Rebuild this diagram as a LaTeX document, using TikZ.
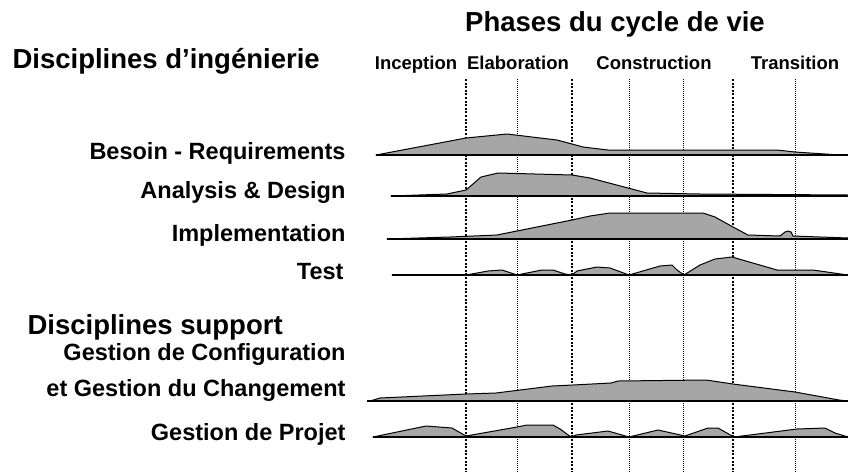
\documentclass[tikz,border=0pt]{standalone}
\usepackage{fontspec}
\setmainfont{Liberation Sans}
\begin{document}
\begin{tikzpicture}[x=1pt,y=-1pt,
    titre/.style={font=\bfseries\fontsize{27.5}{32}\selectfont, anchor=base},
    rubrique/.style={font=\bfseries\fontsize{27.5}{32}\selectfont, anchor=base west},
    phase/.style={font=\bfseries\fontsize{18.5}{22}\selectfont, anchor=base},
    discipline/.style={font=\bfseries\fontsize{23.5}{28}\selectfont, anchor=base east},
    courbe/.style={fill=gray!70, draw=black, line width=1pt, line join=round},
    socle/.style={line width=1.6pt},
    jalon/.style={dash pattern=on 2pt off 1.6pt, line width=2.4pt},
    iteration/.style={dash pattern=on 1pt off 1pt, line width=0.8pt}]
  \useasboundingbox (0,0) rectangle (848,472);

  % Titres
  \node[titre] (cycle) at (615,31) {Phases du cycle de vie};
  \node[rubrique] (inge) at (9,68) {Disciplines d’ingénierie};
  \node[rubrique] (support) at (24,334) {Disciplines support};

  % Phases
  \node[phase] (inception) at (416,69) {Inception};
  \node[phase] (elaboration) at (518,69) {Elaboration};
  \node[phase] (construction) at (654,69) {Construction};
  \node[phase] (transition) at (795,69) {Transition};

  % Disciplines
  \node[discipline] (besoin) at (349,159) {Besoin - Requirements};
  \node[discipline] (analyse) at (349,198) {Analysis \& Design};
  \node[discipline] (implem) at (349,241) {Implementation};
  \node[discipline] (test) at (347,279) {Test};
  \node[discipline] (config) at (349,360) {Gestion de Configuration};
  \node[discipline] (changement) at (349,396) {et Gestion du Changement};
  \node[discipline] (projet) at (349,440) {Gestion de Projet};

  % Jalons et iterations
  \foreach \x in {466,572,733} {
      \draw[jalon] (\x,79) -- (\x,472);
  }
  \foreach \x in {517,629,683,795} {
      \draw[iteration] (\x,79) -- (\x,472);
  }

  % Besoin - Requirements
  \filldraw[courbe] (376,155) -- (466,138) -- (507,134) -- (557,140) -- (572,144)
      -- (583,147) -- (608,150) -- (777,150) -- (795,152) -- (840,155) -- (848,155) -- cycle;
  \draw[socle] (376,155) -- (848,155);

  % Analysis & Design
  \filldraw[courbe] (391,196) -- (447,194) -- (466,190) -- (481,177) -- (498,173)
      -- (572,175) -- (590,178) -- (647,193) -- (700,194) -- (848,195) -- (848,196) -- cycle;
  \draw[socle] (391,196) -- (848,196);

  % Implementation
  \filldraw[courbe] (387,239) -- (450,237) -- (497,235) -- (572,220) -- (590,216)
      -- (610,213) -- (703,213) -- (715,217) -- (733,227) -- (748,235) -- (780,236)
      -- (785,232) -- (788,231) -- (791,232) -- (793,236) -- (848,238) -- (848,239) -- cycle;
  \draw[socle] (387,239) -- (848,239);

  % Test
  \filldraw[courbe] (392,275) -- (466,275) -- (488,271) -- (502,270) -- (517,275)
      -- (542,270) -- (553,270) -- (565,274) -- (572,275) -- (577,271) -- (597,267)
      -- (610,268) -- (629,275) -- (660,266) -- (672,265) -- (677,270) -- (684,275)
      -- (700,265) -- (715,259) -- (732,257) -- (777,270) -- (813,270) -- (848,275) -- cycle;
  \draw[socle] (392,275) -- (848,275);

  % Gestion de Configuration et du Changement
  \filldraw[courbe] (370,401) -- (380,398) -- (466,394) -- (496,393) -- (552,386)
      -- (573,385) -- (611,383) -- (618,381) -- (706,380) -- (733,384) -- (795,392)
      -- (839,400) -- (848,401) -- cycle;
  \draw[socle] (367,401) -- (848,401);

  % Gestion de Projet
  \filldraw[courbe] (373,437) -- (426,426) -- (452,428) -- (466,436) -- (517,427)
      -- (527,425) -- (553,425) -- (560,429) -- (571,437) -- (576,435) -- (608,431)
      -- (629,437) -- (658,430) -- (685,436) -- (708,428) -- (718,428) -- (734,437)
      -- (797,429) -- (825,428) -- (835,433) -- (848,437) -- cycle;
  \draw[socle] (373,437) -- (848,437);
\end{tikzpicture}
\end{document}
